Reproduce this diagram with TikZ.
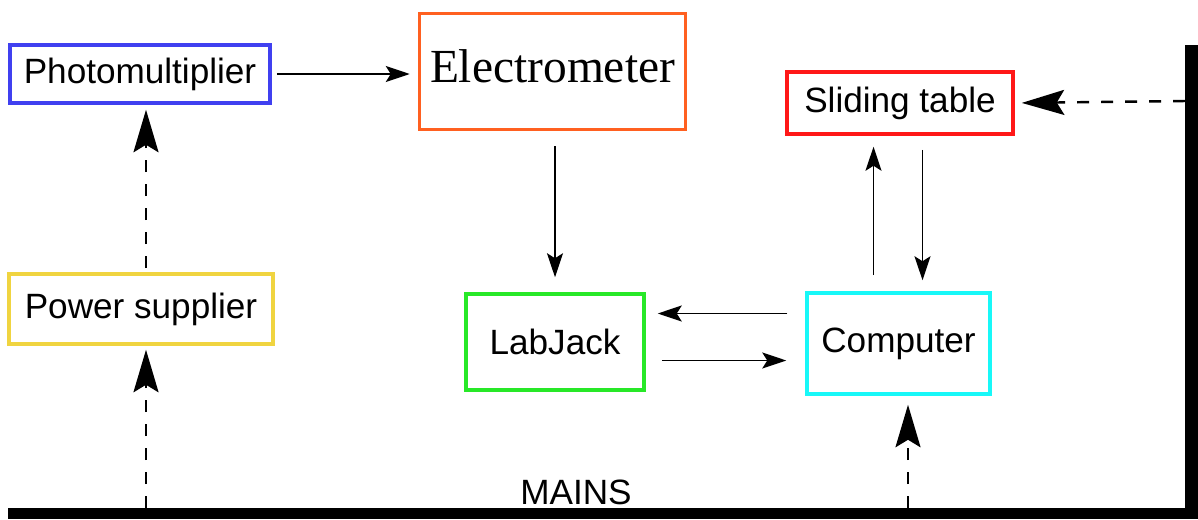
\documentclass[tikz,border=0pt]{standalone}
\usepackage{fontspec}
\setmainfont{Liberation Serif}
\setsansfont{Liberation Sans}
\usepackage{tikz}
\usetikzlibrary{arrows.meta,calc}
\usepackage{xcolor}
\definecolor{pmblue}{RGB}{64,64,240}
\definecolor{emorange}{RGB}{255,96,32}
\definecolor{stred}{RGB}{255,24,24}
\definecolor{psyellow}{RGB}{240,212,64}
\definecolor{ljgreen}{RGB}{40,232,40}
\definecolor{pccyan}{RGB}{24,248,248}

\begin{document}
\begin{tikzpicture}[
    box/.style={draw, line width=2pt, inner sep=0pt,
      font=\sffamily\fontsize{20}{24}\selectfont},
    arr/.style={-{Stealth[length=0.48cm, width=0.32cm, inset=0.1cm]},
      line width=0.8pt},
    supply/.style={-{Stealth[length=0.85cm, width=0.5cm, inset=0.15cm]},
      line width=1.4pt, dash pattern=on 0.24cm off 0.24cm},
    bar/.style={fill=black},
  ]
  \useasboundingbox (0,0) rectangle (23.96,10.38);

  % Mains rails
  \fill[bar] (0.16,0) rectangle (23.96,0.22);
  \fill[bar] (23.70,0) rectangle (23.96,9.48);
  \coordinate (mainsTop) at (0,0.22);
  \coordinate (railR) at (23.70,8.36);
  \node[font=\sffamily\fontsize{20}{24}\selectfont] (mains) at (11.52,0.53) {MAINS};

  % Boxes
  \node[box, draw=pmblue, minimum width=5.20cm, minimum height=1.16cm]
    (photo) at (2.80,8.90) {Photomultiplier};
  \node[box, draw=emorange, minimum width=5.32cm, minimum height=2.32cm,
        font=\rmfamily\fontsize{27}{32}\selectfont, text depth=0.2cm]
    (elec) at (11.05,8.95) {Electrometer};
  \node[box, draw=stred, minimum width=4.52cm, minimum height=1.24cm]
    (slide) at (18.00,8.32) {Sliding table};
  \node[box, draw=psyellow, minimum width=5.28cm, minimum height=1.40cm]
    (power) at (2.82,4.20) {Power supplier};
  \node[box, draw=ljgreen, minimum width=3.56cm, minimum height=1.92cm]
    (lab) at (11.10,3.54) {LabJack};
  \node[box, draw=pccyan, minimum width=3.66cm, minimum height=2.02cm]
    (comp) at (17.97,3.51) {Computer};

  % Taps on the mains
  \coordinate (psIn) at ($(power.south)+(0.1,0)$);
  \coordinate (pcIn) at ($(comp.south)+(0.19,0)$);

  % Signal path
  \draw[arr, shorten <=0.1cm, shorten >=0.16cm]
    (photo.east) -- (photo.east -| elec.west);
  \draw[arr, shorten <=0.3cm, shorten >=0.3cm]
    (elec.south -| lab.north) -- (lab.north);
  \draw[arr, shorten <=0.36cm, shorten >=0.24cm]
    ([yshift=6mm]comp.west) -- ([yshift=6mm]comp.west -| lab.east);
  \draw[arr, shorten <=0.32cm, shorten >=0.38cm]
    ([yshift=-3.7mm]lab.east) -- ([yshift=-3.7mm]lab.east -| comp.west);
  \draw[arr, shorten <=0.32cm, shorten >=0.22cm]
    ([xshift=-5mm]comp.north) -- ([xshift=-5mm]comp.north |- slide.south);
  \draw[arr, shorten <=0.28cm, shorten >=0.22cm]
    ([xshift=4.5mm]slide.south) -- ([xshift=4.5mm]slide.south |- comp.north);

  % Power lines
  \draw[supply, shorten <=0.08cm, shorten >=0.1cm]
    ([xshift=1mm]power.north) -- ([xshift=1mm]power.north |- photo.south);
  \draw[supply, shorten >=0.08cm] (psIn |- mainsTop) -- (psIn);
  \draw[supply, shorten >=0.18cm] (pcIn |- mainsTop) -- (pcIn);
  \draw[supply, shorten >=0.14cm] (railR) -- (slide.east);

\end{tikzpicture}
\end{document}
